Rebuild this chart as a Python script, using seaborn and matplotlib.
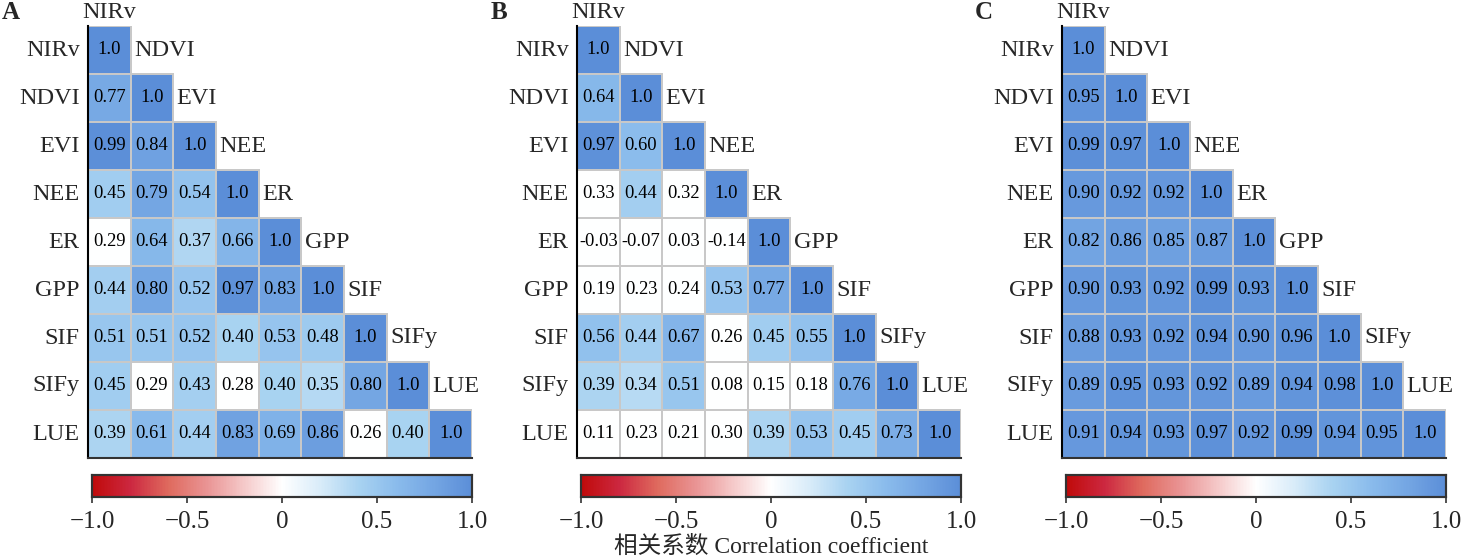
import numpy as np
import pandas as pd
import matplotlib
matplotlib.use('Agg')
import matplotlib.pyplot as plt
from matplotlib.colors import LinearSegmentedColormap, to_rgba
import seaborn as sns

variables = ['NIRv', 'NDVI', 'EVI', 'NEE', 'ER', 'GPP', 'SIF', 'SIFy', 'LUE']

# lower triangles, row by row
corr_a = [
    [1.0],
    [0.77, 1.0],
    [0.99, 0.84, 1.0],
    [0.45, 0.79, 0.54, 1.0],
    [0.29, 0.64, 0.37, 0.66, 1.0],
    [0.44, 0.80, 0.52, 0.97, 0.83, 1.0],
    [0.51, 0.51, 0.52, 0.40, 0.53, 0.48, 1.0],
    [0.45, 0.29, 0.43, 0.28, 0.40, 0.35, 0.80, 1.0],
    [0.39, 0.61, 0.44, 0.83, 0.69, 0.86, 0.26, 0.40, 1.0],
]
corr_b = [
    [1.0],
    [0.64, 1.0],
    [0.97, 0.60, 1.0],
    [0.33, 0.44, 0.32, 1.0],
    [-0.03, -0.07, 0.03, -0.14, 1.0],
    [0.19, 0.23, 0.24, 0.53, 0.77, 1.0],
    [0.56, 0.44, 0.67, 0.26, 0.45, 0.55, 1.0],
    [0.39, 0.34, 0.51, 0.08, 0.15, 0.18, 0.76, 1.0],
    [0.11, 0.23, 0.21, 0.30, 0.39, 0.53, 0.45, 0.73, 1.0],
]
corr_c = [
    [1.0],
    [0.95, 1.0],
    [0.99, 0.97, 1.0],
    [0.90, 0.92, 0.92, 1.0],
    [0.82, 0.86, 0.85, 0.87, 1.0],
    [0.90, 0.93, 0.92, 0.99, 0.93, 1.0],
    [0.88, 0.93, 0.92, 0.94, 0.90, 0.96, 1.0],
    [0.89, 0.95, 0.93, 0.92, 0.89, 0.94, 0.98, 1.0],
    [0.91, 0.94, 0.93, 0.97, 0.92, 0.99, 0.94, 0.95, 1.0],
]
panel_letters = ['A', 'B', 'C']
# |r| below this is not significant -> drawn white
sig_cut = [0.30, 0.335, 0.0]
cbar_ticks = [-1.0, -0.5, 0, 0.5, 1.0]
cbar_ticklabels = ['\u22121.0', '\u22120.5', '0', '0.5', '1.0']
cbar_label = '相关系数 Correlation coefficient'

cmap = LinearSegmentedColormap.from_list('rb', [
    '#c00a0a', '#cc2840', '#df6a5e', '#e99393', '#f5c9c9', '#ffffff',
    '#d9ecf9', '#a9d3f1', '#8bbcec', '#74a6e3', '#5b8ed8'])

sns.set_style('white')
plt.rcParams['font.family'] = ['Liberation Serif', 'Noto Sans CJK SC', 'DejaVu Sans']
plt.rcParams['axes.unicode_minus'] = True

W, H = 1465, 559
fig = plt.figure(figsize=(W / 100, H / 100), dpi=100)

grid_left = [88, 577, 1062]
grid_w = 384
grid_top, grid_bot = 26, 458
letter_x = [2, 491, 975]
n = len(variables)
edge_grey = to_rgba('#c8c8c8')
lab_fs = 17.5

for k, tri in enumerate([corr_a, corr_b, corr_c]):
    full = np.full((n, n), np.nan)
    for i, row in enumerate(tri):
        full[i, :len(row)] = row
    df = pd.DataFrame(full, index=variables, columns=variables)
    mask = np.triu(np.ones((n, n), dtype=bool), k=1)
    shown = df.where(df.abs() >= sig_cut[k], 0.0)
    labels = np.full((n, n), '', dtype=object)
    for i in range(n):
        for j in range(i + 1):
            labels[i, j] = '1.0' if i == j else f'{full[i, j]:.2f}'

    x0 = grid_left[k]
    ax = fig.add_axes([x0 / W, 1 - grid_bot / H, grid_w / W, (grid_bot - grid_top) / H])
    cax = fig.add_axes([(x0 + 4) / W, 1 - 497 / H, (grid_w - 4) / W, 22 / H])
    sns.heatmap(shown, mask=mask, cmap=cmap, vmin=-1, vmax=1, ax=ax,
                annot=labels, fmt='', annot_kws={'size': 13.3, 'color': 'black'},
                linewidths=1.3, linecolor='#c8c8c8', cbar_ax=cax,
                cbar_kws={'orientation': 'horizontal', 'ticks': cbar_ticks})
    # no outlines on the empty upper triangle
    mesh = ax.collections[0]
    edges = np.array([(0, 0, 0, 0) if m else edge_grey for m in mask.ravel()])
    mesh.set_edgecolor(edges)

    ax.set_xticks([])
    ax.set_xlabel('')
    ax.set_ylabel('')
    ax.set_yticklabels(variables, rotation=0, fontsize=lab_fs)
    ax.tick_params(axis='y', length=0, pad=6)
    for side in ['left', 'bottom']:
        ax.spines[side].set_visible(True)
        ax.spines[side].set_color('black' if side == 'left' else '#333333')
        ax.spines[side].set_linewidth(1.5)

    # column labels along the diagonal
    ax.text(0.5, -0.17, variables[0], ha='center', va='baseline', fontsize=lab_fs)
    for j in range(1, n):
        ax.text(j + 0.08, j - 0.5, variables[j], ha='left', va='center', fontsize=lab_fs)

    cax.set_xticklabels(cbar_ticklabels, fontsize=18)
    cax.tick_params(axis='x', length=4, width=1.2, color='#333333', pad=6)
    for s in cax.spines.values():
        s.set_visible(True)
        s.set_color('#333333')
        s.set_linewidth(1.5)
    if k == 1:
        cax.set_xlabel(cbar_label, fontsize=17, labelpad=2)

    fig.text(letter_x[k] / W, 1 - 19 / H, panel_letters[k], fontsize=18,
             fontweight='bold', ha='left', va='baseline')

fig.savefig('out.png', dpi=100)
